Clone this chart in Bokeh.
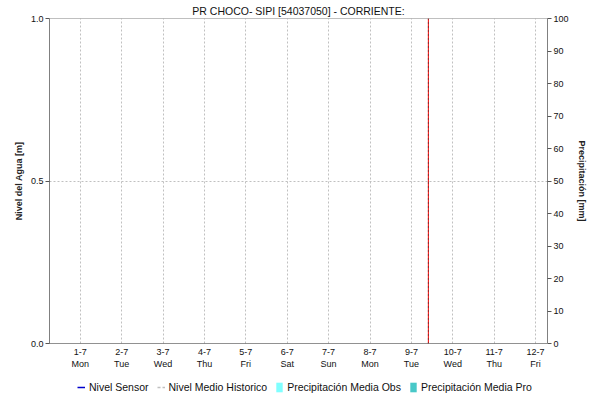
from bokeh.plotting import figure
from bokeh.layouts import column
from bokeh.models import (Range1d, LinearAxis, FixedTicker, Span, Legend,
                          LegendItem, NumeralTickFormatter)
from bokeh.embed import file_html
from bokeh.resources import INLINE

# ---------------- data ----------------
title_text = "PR CHOCO- SIPI [54037050] - CORRIENTE:"
day_ticks = [1, 2, 3, 4, 5, 6, 7, 8, 9, 10, 11, 12]
day_labels = ["1-7", "2-7", "3-7", "4-7", "5-7", "6-7", "7-7", "8-7", "9-7", "10-7", "11-7", "12-7"]
weekday_labels = ["Mon", "Tue", "Wed", "Thu", "Fri", "Sat", "Sun", "Mon", "Tue", "Wed", "Thu", "Fri"]
level_ticks = [0.0, 0.5, 1.0]
precip_ticks = [0, 10, 20, 30, 40, 50, 60, 70, 80, 90, 100]
sensor_time = []
sensor_level = []
historic_time = []
historic_level = []
precip_obs_time = []
precip_obs = []
precip_pro_time = []
precip_pro = []
current_time = 9.41

# ---------------- styles ----------------
FONT = "Liberation Sans"
W = 589
H_MAIN, H_LEG = 372, 32
BL, BR, BT, BB = 49, 38, 18, 29
C_SENSOR, C_HIST, C_OBS, C_PRO = "#0000CC", "#C0C0C0", "#80FFFF", "#48C8C8"

p = figure(width=W, height=H_MAIN, output_backend="svg", toolbar_location=None,
           x_range=Range1d(0.257, 12.288), y_range=Range1d(0, 1),
           min_border_left=BL, min_border_right=BR, min_border_top=BT, min_border_bottom=BB)
p.outline_line_color = None
p.background_fill_color = "white"
p.border_fill_color = "white"
p.extra_y_ranges = {"precip": Range1d(0, 100)}

p.title.text = title_text
p.title.align = "center"
p.title.text_font = FONT
p.title.text_font_size = "10.5px"
p.title.text_font_style = "normal"
p.title.text_color = "#111111"
p.title.standoff = 4
p.title.offset = 0

# x axis
xa = p.xaxis[0]
xa.ticker = FixedTicker(ticks=day_ticks)
xa.major_label_overrides = {d: f"{l}\n{w}" for d, l, w in zip(day_ticks, day_labels, weekday_labels)}
xa.axis_line_color = "#222222"
xa.axis_line_dash = "1 1"
xa.major_tick_out = 0
xa.major_tick_in = 0
xa.minor_tick_out = 0
xa.minor_tick_in = 0
xa.major_label_standoff = 3
xa.major_label_text_font = FONT
xa.major_label_text_font_size = "9px"
xa.major_label_text_color = "#111111"

# left axis
ya = p.yaxis[0]
ya.ticker = FixedTicker(ticks=level_ticks)
ya.formatter = NumeralTickFormatter(format="0.0")
ya.axis_line_color = "#808080"
ya.major_tick_out = 4
ya.major_tick_in = 0
ya.major_tick_line_color = "#555555"
ya.minor_tick_out = 0
ya.minor_tick_in = 0
ya.major_label_standoff = 2
ya.major_label_text_font = FONT
ya.major_label_text_font_size = "9px"
ya.major_label_text_color = "#111111"
ya.axis_label = "Nivel del Agua [m]"
ya.axis_label_text_font = FONT
ya.axis_label_text_font_size = "9px"
ya.axis_label_text_font_style = "bold"
ya.axis_label_text_color = "#222222"
ya.axis_label_standoff = 4

# right axis
ra = LinearAxis(y_range_name="precip", ticker=FixedTicker(ticks=precip_ticks))
ra.axis_line_color = "#808080"
ra.major_tick_out = 4
ra.major_tick_in = 0
ra.major_tick_line_color = "#555555"
ra.minor_tick_out = 0
ra.minor_tick_in = 0
ra.major_label_standoff = 2
ra.major_label_text_font = FONT
ra.major_label_text_font_size = "9px"
ra.major_label_text_color = "#111111"
ra.axis_label = "Precipitación [mm]"
ra.axis_label_text_font = FONT
ra.axis_label_text_font_size = "9px"
ra.axis_label_text_font_style = "bold"
ra.axis_label_text_color = "#222222"
ra.axis_label_standoff = 5
p.add_layout(ra, "right")

# grids
p.xgrid.ticker = FixedTicker(ticks=day_ticks)
p.xgrid.grid_line_color = "#C0C0C0"
p.xgrid.grid_line_dash = "2 2"
p.ygrid.ticker = FixedTicker(ticks=[level_ticks[1]])
p.ygrid.grid_line_color = "#C0C0C0"
p.ygrid.grid_line_dash = "2 2"

# top border
p.add_layout(Span(location=p.y_range.end, dimension="width", line_color="#808080", line_width=1))

# series (no data in the reference period)
p.line(sensor_time, sensor_level, line_color=C_SENSOR, line_width=1.5)
p.line(historic_time, historic_level, line_color=C_HIST, line_width=1.5, line_dash="3 3")
p.vbar(x=precip_obs_time, top=precip_obs, width=0.8, y_range_name="precip",
       fill_color=C_OBS, line_color=None)
p.vbar(x=precip_pro_time, top=precip_pro, width=0.8, y_range_name="precip",
       fill_color=C_PRO, line_color=None)

# current time marker
p.add_layout(Span(location=current_time, dimension="height", line_color="#EE0000", line_width=1))
p.add_layout(Span(location=current_time, dimension="height", line_color="#333333",
                  line_width=1, line_dash="1 3"))

# ---------------- legend strip ----------------
# swatch renderers: one off-screen point each, only so that the legend draws its glyphs
q = figure(width=W, height=H_LEG, output_backend="svg", toolbar_location=None, title=None,
           x_range=Range1d(0, 1), y_range=Range1d(0, 1), x_axis_type=None, y_axis_type=None,
           min_border=0)
q.outline_line_color = None
q.background_fill_color = "white"
q.border_fill_color = "white"
swatch_x, swatch_y = [-5.0, -4.0], [-5.0, -4.0]
l_sensor = q.line(swatch_x, swatch_y, line_color=C_SENSOR, line_width=1.5)
l_hist = q.line(swatch_x, swatch_y, line_color=C_HIST, line_width=1.5, line_dash="3 2")
l_obs = q.vbar(x=swatch_x, top=swatch_y, width=0.8, fill_color=C_OBS, line_color=None)
l_pro = q.vbar(x=swatch_x, top=swatch_y, width=0.8, fill_color=C_PRO, line_color=None)

legend = Legend(items=[
    LegendItem(label="Nivel Sensor", renderers=[l_sensor]),
    LegendItem(label="Nivel Medio Historico", renderers=[l_hist]),
    LegendItem(label="Precipitación Media Obs", renderers=[l_obs]),
    LegendItem(label="Precipitación Media Pro", renderers=[l_pro]),
], location=(28, 11), orientation="horizontal", border_line_color=None,
    background_fill_alpha=0, padding=0, margin=0, spacing=8,
    glyph_width=8, glyph_height=12, label_height=12, label_standoff=4,
    label_text_font=FONT, label_text_font_size="10.5px", label_text_color="#111111")
q.add_layout(legend)

layout = column(p, q, spacing=0)
open("out.html", "w").write(file_html(layout, INLINE))
